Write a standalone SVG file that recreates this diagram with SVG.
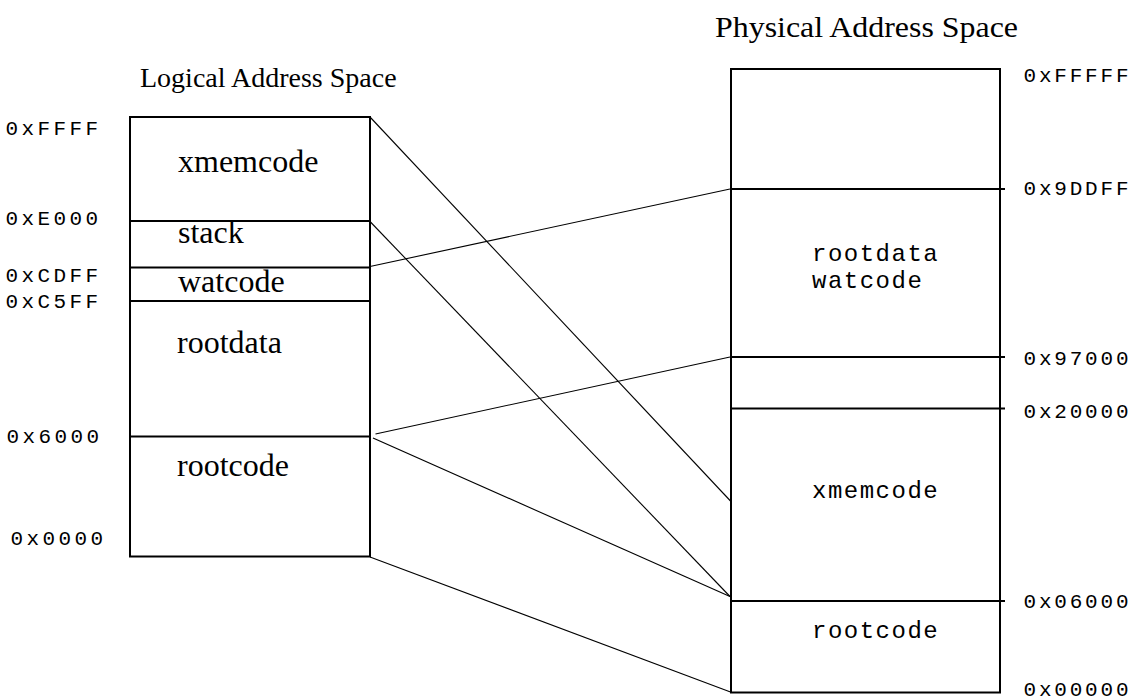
<svg xmlns="http://www.w3.org/2000/svg" width="1133" height="700" viewBox="0 0 1133 700">
<style>
.box{fill:none;stroke:#000;stroke-width:2}
.div{stroke:#000;stroke-width:2}
.con{stroke:#000;stroke-width:1.1;fill:none}
.title{font-family:"Liberation Serif","Times New Roman",serif;font-size:28px;fill:#000}
.lbl{font-family:"Liberation Serif","Times New Roman",serif;font-size:32px;fill:#000}
.hexl{font-family:"Liberation Mono","Courier New",monospace;font-size:21px;letter-spacing:3.4px;fill:#000}
.hexr{font-family:"Liberation Mono","Courier New",monospace;font-size:21px;letter-spacing:2.8px;fill:#000}
.mono{font-family:"Liberation Mono","Courier New",monospace;font-size:24px;letter-spacing:1.5px;fill:#000}
</style>
<rect width="1133" height="700" fill="#fff"/>
<g id="logical-space">
  <text class="title" x="140" y="87">Logical Address Space</text>
  <rect class="box" x="130" y="117" width="240" height="439.5"/>
  <line class="div" x1="130" y1="221" x2="371" y2="221"/>
  <line class="div" x1="130" y1="267.5" x2="370" y2="267.5"/>
  <line class="div" x1="130" y1="301" x2="370" y2="301"/>
  <line class="div" x1="130" y1="436.5" x2="370" y2="436.5"/>
  <text class="lbl" x="178" y="172">xmemcode</text>
  <text class="lbl" x="178" y="243">stack</text>
  <text class="lbl" x="178" y="291.5">watcode</text>
  <text class="lbl" x="177" y="353">rootdata</text>
  <text class="lbl" x="177" y="476">rootcode</text>
  <text class="hexl" x="5.5" y="135">0xFFFF</text>
  <text class="hexl" x="5.5" y="225">0xE000</text>
  <text class="hexl" x="5.5" y="281.5">0xCDFF</text>
  <text class="hexl" x="5.5" y="308">0xC5FF</text>
  <text class="hexl" x="6.5" y="443">0x6000</text>
  <text class="hexl" x="10.5" y="545">0x0000</text>
</g>
<g id="physical-space">
  <text class="title" x="715" y="37" textLength="303" lengthAdjust="spacingAndGlyphs" style="font-size:30px">Physical Address Space</text>
  <rect class="box" x="731" y="69" width="269" height="623.5"/>
  <line class="div" x1="732" y1="189" x2="1005" y2="189"/>
  <line class="div" x1="732" y1="357" x2="1005" y2="357"/>
  <line class="div" x1="732" y1="408.5" x2="1005" y2="408.5"/>
  <line class="div" x1="732" y1="601" x2="1005" y2="601"/>
  <text class="mono" x="812" y="261">rootdata</text>
  <text class="mono" x="812" y="288">watcode</text>
  <text class="mono" x="812" y="498">xmemcode</text>
  <text class="mono" x="812" y="638">rootcode</text>
  <text class="hexr" x="1023.5" y="81.5">0xFFFFF</text>
  <text class="hexr" x="1023.5" y="195">0x9DDFF</text>
  <text class="hexr" x="1023.5" y="365">0x97000</text>
  <text class="hexr" x="1023.5" y="418">0x20000</text>
  <text class="hexr" x="1023.5" y="608">0x06000</text>
  <text class="hexr" x="1023.5" y="696">0x00000</text>
</g>
<g id="connectors">
  <line class="con" x1="370" y1="117" x2="730.5" y2="501"/>
  <line class="con" x1="370" y1="221.5" x2="730" y2="596.5"/>
  <line class="con" x1="370" y1="266.5" x2="730" y2="189"/>
  <line class="con" x1="375.5" y1="434" x2="730" y2="357"/>
  <line class="con" x1="373" y1="438" x2="730" y2="596.5"/>
  <line class="con" x1="370" y1="557" x2="730.5" y2="692"/>
</g>
</svg>
